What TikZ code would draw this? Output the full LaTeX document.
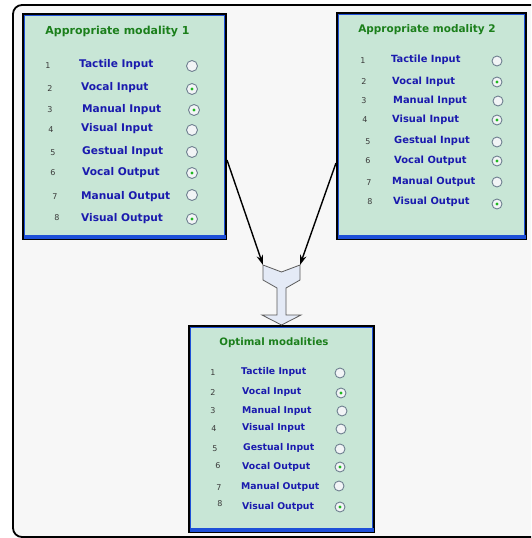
\documentclass[tikz,border=0pt]{standalone}
\usepackage{fontspec}
\setmainfont{DejaVu Sans}
\usetikzlibrary{arrows.meta}

\definecolor{panel}{HTML}{C8E6D6}
\definecolor{frameblue}{HTML}{1E50D8}
\definecolor{titlegreen}{HTML}{1B7F1B}
\definecolor{labelblue}{HTML}{1A1AAE}
\definecolor{numgray}{HTML}{3A3A3A}
\definecolor{canvas}{HTML}{F7F7F7}
\definecolor{mergefill}{HTML}{E4EAF6}
\definecolor{radioring}{HTML}{6F8090}
\definecolor{radiofill}{HTML}{F2F4F6}
\definecolor{radiodot}{HTML}{1FB81F}

\tikzset{
  modbox/.style={draw=black, line width=2pt, fill=panel, inner sep=0pt, rectangle},
  boxtitle/.style={text=titlegreen, font=\bfseries\fontsize{#1}{#1}\selectfont, inner sep=0pt},
  rowlabel/.style={text=labelblue, font=\bfseries\fontsize{#1}{#1}\selectfont, anchor=west, inner sep=0pt},
  rownum/.style={text=numgray, font=\fontsize{8}{9}\selectfont, inner sep=0pt},
  radio/.style={circle, draw=radioring, line width=0.9pt, fill=radiofill, inner sep=0pt, minimum size=#1},
  radiosel/.style={circle, fill=radiodot, inner sep=0pt, minimum size=3.2pt},
  feed/.style={-{Stealth[length=10pt,width=6.5pt]}, line width=1.4pt, black},
}

% panel with black rim, inner blue rim and a heavier blue bottom bar
\newcommand{\panelrim}[1]{%
  \draw[frameblue, line width=1.1pt]
    ([shift={(2.2,2.2)}]#1.north west) rectangle ([shift={(-2.2,-2.2)}]#1.south east);
  \fill[frameblue]
    ([shift={(1.5,-5.5)}]#1.south west) rectangle ([shift={(-1.5,-1)}]#1.south east);
}

\begin{document}
\begin{tikzpicture}[x=1pt, y=-1pt]
  \useasboundingbox (0,0) rectangle (531,538);
  \clip (0,0) rectangle (531,538);
  \fill[white] (0,0) rectangle (531,538);

  % surrounding frame
  \draw[line width=1.8pt, rounded corners=9pt, fill=canvas] (13,5) rectangle (560,537);

  % ---------- panel 1 ----------
  \node[modbox, minimum width=203pt, minimum height=225pt] (b1) at (124.5,126.5) {};
  \panelrim{b1}
  \node[boxtitle=11] (t1) at (117.5,32) {Appropriate modality 1};
  \foreach \i/\nx/\ny/\lx/\ly/\txt/\rx/\ry/\sel in {
      1/48/66/79/65/{Tactile Input}/192/66/0,
      2/50/89/81/88/{Vocal Input}/192/89/1,
      3/50/110/82/110/{Manual Input}/194/110/1,
      4/51/130/81/129/{Visual Input}/192/130/0,
      5/53/153/82/152/{Gestual Input}/192/152/0,
      6/53/173/82/173/{Vocal Output}/192/173/1,
      7/55/197/81/197/{Manual Output}/192/195/0,
      8/57/218/81/219/{Visual Output}/192/219/1}{
    \node[rownum] (b1n\i) at (\nx,\ny) {\i};
    \node[rowlabel=10.6] (b1l\i) at (\lx,\ly) {\txt};
    \node[radio=11pt] (b1r\i) at (\rx,\ry) {};
    \ifnum\sel=1 \node[radiosel] (b1s\i) at (b1r\i) {}; \fi
  }

  % ---------- panel 2 ----------
  \node[modbox, minimum width=189pt, minimum height=226pt] (b2) at (431.5,126) {};
  \panelrim{b2}
  \node[boxtitle=10.5] (t2) at (427,30) {Appropriate modality 2};
  \foreach \i/\nx/\ny/\lx/\ly/\txt/\rx/\ry/\sel in {
      1/363/61/391/60/{Tactile Input}/497/61/0,
      2/364/82/392/82/{Vocal Input}/497/82/1,
      3/364/101/393/101/{Manual Input}/498/101/0,
      4/365/120/392/120/{Visual Input}/497/120/1,
      5/368/142/394/141/{Gestual Input}/497/142/0,
      6/368/161/394/161/{Vocal Output}/497/161/1,
      7/369/183/392/182/{Manual Output}/497/182/0,
      8/370/202/393/202/{Visual Output}/497/204/1}{
    \node[rownum] (b2n\i) at (\nx,\ny) {\i};
    \node[rowlabel=9.9] (b2l\i) at (\lx,\ly) {\txt};
    \node[radio=10pt] (b2r\i) at (\rx,\ry) {};
    \ifnum\sel=1 \node[radiosel] (b2s\i) at (b2r\i) {}; \fi
  }

  % ---------- merged result ----------
  \node[modbox, minimum width=185pt, minimum height=206pt] (b3) at (281.5,429) {};
  \panelrim{b3}
  \node[boxtitle=10.2] (t3) at (274,343) {Optimal modalities};
  \foreach \i/\nx/\ny/\lx/\ly/\txt/\rx/\ry/\sel in {
      1/213/373/241/372/{Tactile Input}/340/373/0,
      2/213/393/242/392/{Vocal Input}/341/393/1,
      3/213/411/242/411/{Manual Input}/342/411/0,
      4/214/429/242/428/{Visual Input}/341/429/0,
      5/215/449/243/448/{Gestual Input}/340/449/0,
      6/218/466/242/467/{Vocal Output}/340/467/1,
      7/219/488/241/487/{Manual Output}/339/486/0,
      8/220/504/242/507/{Visual Output}/340/507/1}{
    \node[rownum] (b3n\i) at (\nx,\ny) {\i};
    \node[rowlabel=9.3] (b3l\i) at (\lx,\ly) {\txt};
    \node[radio=10pt] (b3r\i) at (\rx,\ry) {};
    \ifnum\sel=1 \node[radiosel] (b3s\i) at (b3r\i) {}; \fi
  }

  % ---------- merge arrow ----------
  \coordinate (ytl) at (263,265);
  \coordinate (ytr) at (300,265);
  \draw[fill=mergefill, draw=black!65, line width=0.8pt]
    (ytl) -- (281.5,272) -- (ytr) -- (300,280) -- (286,288) -- (286,315)
    -- (301,315) -- (281.5,325) -- (262,315) -- (277,315) -- (277,288)
    -- (263,280) -- cycle;

  \draw[feed] ([yshift=-33.5pt]b1.east) -- (ytl);
  \draw[feed] ([yshift=-37pt]b2.west) -- (ytr);
\end{tikzpicture}
\end{document}
